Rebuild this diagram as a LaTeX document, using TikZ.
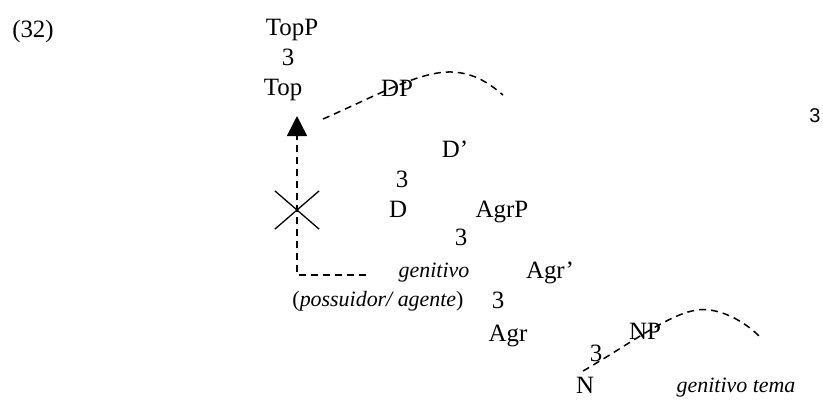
\documentclass[tikz,border=0pt]{standalone}
\usepackage{fontspec}
\setmainfont{Liberation Serif}
\newfontfamily\mySans{Liberation Sans}
\usetikzlibrary{arrows.meta,shapes.misc}
\tikzset{
myCat/.style={
	anchor=base, inner sep=0pt, text=black,
	font=\fontsize{25}{29}\selectfont
}
, myBranch/.style={myCat}
, myCase/.style={
	myCat, font=\fontsize{22}{26}\selectfont\itshape
}
, myCross/.style={
	draw, cross out, line width=1.3bp, inner sep=0pt,
	minimum width=43bp, minimum height=37bp
}
% lines
, myTrace/.style={dash pattern=on 7bp off 5bp, line width=1.5bp}
, myMove/.style={myTrace, -{Triangle[length=20bp,width=20bp]}}
}

\begin{document}
\begin{tikzpicture}[x=1bp,y=-1bp]
	\useasboundingbox (0,0) rectangle (823,400);
	% nodes
	\node[myCat] (Ex) at (33,37) {(32)};

	\node[myCat] (TopP) at (292,35) {TopP};
	\node[myBranch] (TopPbr) at (288,65) {3};
	\node[myCat] (Top) at (283,95) {Top};
	\node[myCat] (DP) at (397,96) {DP};

	\node[myCat] (Dbar) at (455,157) {D’};
	\node[myBranch] (Dbarbr) at (402,187) {3};
	\node[myCat] (D) at (398,217) {D};
	\node[myCat] (AgrP) at (502,217) {AgrP};

	\node[myBranch] (AgrPbr) at (461,245) {3};
	\node[myCase] (GenA) at (434,277) {genitivo};
	\node[myCat] (Agrbar) at (550,278) {Agr’};
	\node[myCase] (Theta) at (378,306) {{\upshape(}possuidor/ agente{\upshape)}};
	\node[myBranch] (Agrbarbr) at (498,308) {3};
	\node[myCat] (Agr) at (508,341) {Agr};
	\node[myCat] (NP) at (645,339) {NP};

	\node[myBranch] (NPbr) at (596,361) {3};
	\node[myCat] (N) at (585,393) {N};
	\node[myCase] (GenT) at (736,392) {genitivo tema};

	\node[myCat, font=\mySans\fontsize{20}{24}\selectfont] (Stray) at (815,122) {3};

	% movement
	\coordinate (Trace) at (366,275);
	\coordinate (Corner) at (297,275);
	\coordinate (Landing) at (297,116);
	\node[myCross] (Block) at (297,210) {};
	\draw [myMove] (Trace) -- (Corner) -- (Landing);

	% dashed arcs
	\coordinate (DPfrom) at (323,119);
	\coordinate (DPtop) at (452,72);
	\coordinate (DPto) at (503,95);
	\draw [myTrace] (DPfrom) .. controls (380,94) and (420,71) .. (DPtop)
		.. controls (475,73) and (490,84) .. (DPto);
	\coordinate (NPfrom) at (583,371);
	\coordinate (NPtop) at (710,310);
	\coordinate (NPto) at (759,336);
	\draw [myTrace] (NPfrom) .. controls (640,338) and (680,305) .. (NPtop)
		.. controls (730,313) and (748,325) .. (NPto);
\end{tikzpicture}
\end{document}
